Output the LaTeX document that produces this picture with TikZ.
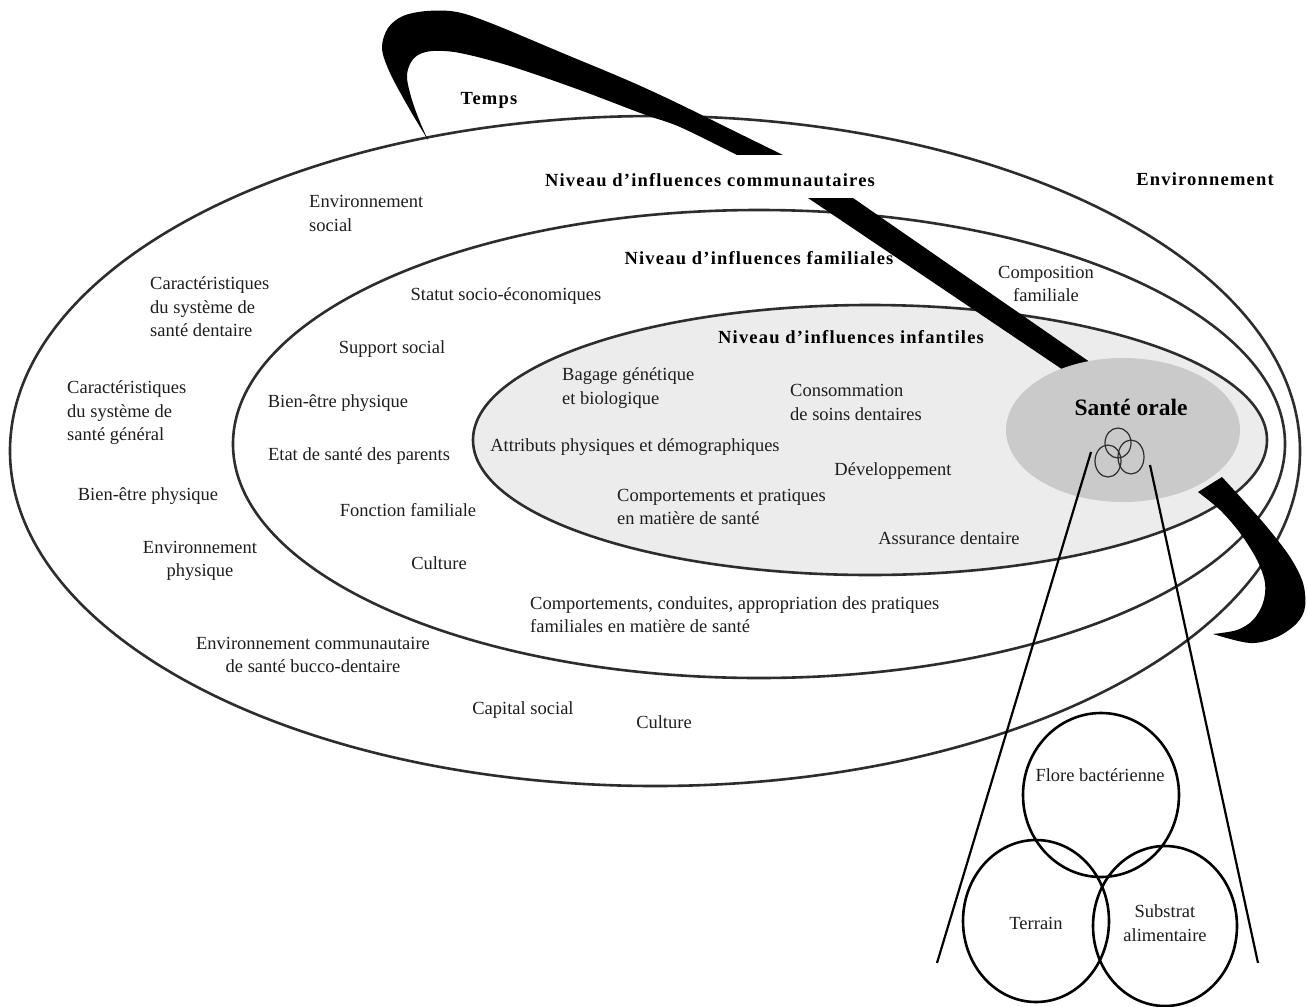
\documentclass[tikz,border=0pt]{standalone}
\usepackage{fontspec}
\setmainfont{Liberation Serif}
\newfontfamily\hdfont[LetterSpace=6.5]{Liberation Serif}
\definecolor{infg}{RGB}{236,236,236}
\definecolor{santeg}{RGB}{202,202,202}
\definecolor{linec}{RGB}{45,45,45}
\definecolor{txtc}{RGB}{30,30,30}
\begin{document}
\begin{tikzpicture}[x=1pt,y=-1pt,
  ring/.style={draw=linec,line width=2.6pt},
  venn/.style={draw=black,line width=2.6pt},
  minic/.style={draw=linec,line width=1.2pt},
  ray/.style={draw=black,line width=2.2pt},
  band/.style={fill=black},
  tx/.style={inner sep=0pt,text=txtc,font=\fontsize{18.5}{23.5}\selectfont},
  txl/.style={tx,align=left,anchor=west},
  txc/.style={tx,align=center},
  hd/.style={inner sep=0pt,text=black,font=\hdfont\bfseries\fontsize{18.5}{23.5}\selectfont},
  big/.style={inner sep=0pt,text=black,font=\bfseries\fontsize{23.5}{28}\selectfont}]
\useasboundingbox[fill=white] (0,0) rectangle (1307,1007);

% --- nested influence levels
\draw[ring] (655,451) ellipse [x radius=645, y radius=335];
\draw[ring] (759,444) ellipse [x radius=526, y radius=234];
\draw[ring,fill=infg] (870,440) ellipse [x radius=397, y radius=135];

% --- time band: arc
\fill[band] plot[smooth,tension=0.55] coordinates {(428,140) (410,110) (390,73) (382,48) (388,28) (403,16) (427,11) (457,12) (493,24) (560,52) (627,80) (673,101) (730,129) (783,155)}
  -- (737,155)
  -- plot[smooth,tension=0.55] coordinates {(737,155) (680,127) (643,114) (577,89) (510,66) (460,53) (433,51) (418,55) (410,64) (407,78) (412,100) (420,122) (428,140)} -- cycle;
% diagonal part
\fill[band] (808,198) -- (853,198) -- (1110,376) -- (1081,382) -- cycle;
% tail
\fill[band] plot[smooth,tension=0.55] coordinates {(1222,477) (1243,500) (1267,527) (1290,557) (1303,583) (1305,607) (1297,623) (1277,637) (1250,643) (1213,634)}
  -- plot[smooth,tension=0.55] coordinates {(1213,634) (1237,630) (1253,620) (1263,603) (1265,583) (1257,560) (1240,533) (1220,510) (1198,492)} -- cycle;
\fill[white] (728,155) rectangle (865,198);

% --- oral health
\fill[santeg] (1123,430) ellipse [x radius=117, y radius=72];
\draw[minic] (1118,443) ellipse [x radius=13, y radius=15];
\draw[minic] (1108,461) ellipse [x radius=13, y radius=16];
\draw[minic] (1131,457) ellipse [x radius=13, y radius=17];

% --- zoom rays
\coordinate (la) at (1091,452);
\coordinate (lb) at (937,963);
\coordinate (ra) at (1150,465);
\coordinate (rb) at (1258,963);
\draw[ray] (la) -- (lb);
\draw[ray] (ra) -- (rb);

% --- venn
\draw[venn] (1101,795) ellipse [x radius=78, y radius=82];
\draw[venn] (1036,921) ellipse [x radius=73, y radius=81];
\draw[venn] (1165,926) ellipse [x radius=72, y radius=80];

% --- headings
\node[hd] (temps) at (489,100) {Temps};
\node[hd] (commu) at (710,180) {Niveau d’influences communautaires};
\node[hd] (envr) at (1205,179) {Environnement};
\node[hd] (fam) at (759,258) {Niveau d’influences familiales};
\node[hd] (inf) at (851,337) {Niveau d’influences infantiles};
\node[big] (sante) at (1131,407) {Santé orale};

% --- community level
\node[txl] (envsoc) at (309,213.5) {Environnement\\social};
\node[txl] (cardent) at (150,307) {Caractéristiques\\du système de\\santé dentaire};
\node[txl] (cargen) at (67,413) {Caractéristiques\\du système de\\santé général};
\node[tx] (bep1) at (148,496) {Bien-être physique};
\node[txc] (envphys) at (200,561) {Environnement\\physique};
\node[txc] (envcom) at (313,655) {Environnement communautaire\\de santé bucco-dentaire};
\node[tx] (capsoc) at (523,710) {Capital social};
\node[tx] (cult1) at (664,722) {Culture};

% --- family level
\node[tx] (statut) at (506,296) {Statut socio-économiques};
\node[tx] (supsoc) at (392,349) {Support social};
\node[tx] (bep2) at (338,403) {Bien-être physique};
\node[tx] (etat) at (359,456) {Etat de santé des parents};
\node[tx] (fonc) at (408,510) {Fonction familiale};
\node[tx] (cult2) at (439,563) {Culture};
\node[txc] (compo) at (1046,284) {Composition\\familiale};
\node[txl] (comport) at (530,614.5) {Comportements, conduites, appropriation des pratiques\\familiales en matière de santé};

% --- child level
\node[txl] (bagage) at (562,388) {Bagage génétique\\et biologique};
\node[txl] (conso) at (790,402.5) {Consommation\\de soins dentaires};
\node[tx] (attr) at (635,447) {Attributs physiques et démographiques};
\node[tx] (dev) at (893,471) {Développement};
\node[txl] (compsante) at (617,507) {Comportements et pratiques\\en matière de santé};
\node[tx] (assur) at (949,538) {Assurance dentaire};

% --- venn labels
\node[tx] (flore) at (1100,775) {Flore bactérienne};
\node[tx] (terrain) at (1036,923) {Terrain};
\node[txc] (substrat) at (1165,923) {Substrat\\alimentaire};
\end{tikzpicture}
\end{document}
